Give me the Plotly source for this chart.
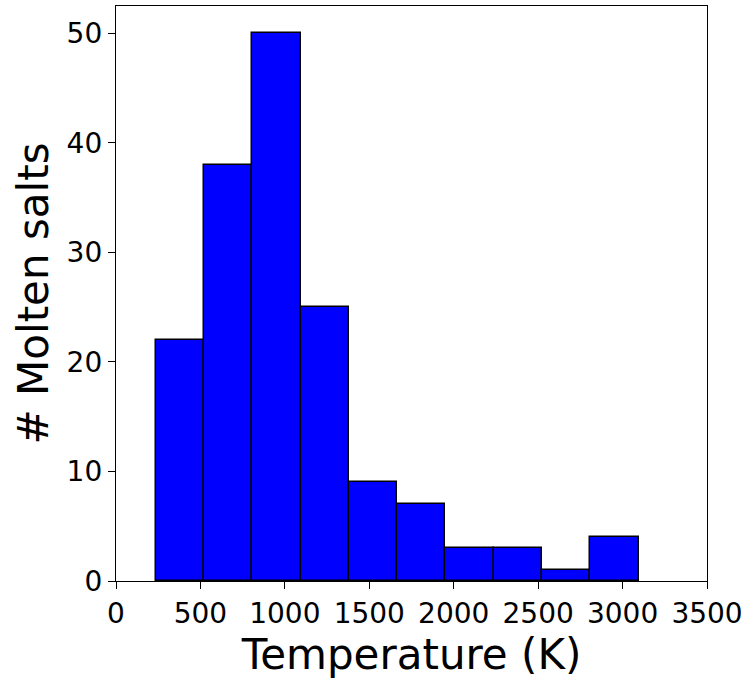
import plotly.graph_objects as go

# Histogram data
bin_edges = [236, 522, 808, 1094, 1380, 1666, 1951, 2237, 2523, 2809, 3095]
counts = [22, 38, 50, 25, 9, 7, 3, 3, 1, 4]

x_ticks = [0, 500, 1000, 1500, 2000, 2500, 3000, 3500]
y_ticks = [0, 10, 20, 30, 40, 50]

centers = [(a + b) / 2 for a, b in zip(bin_edges[:-1], bin_edges[1:])]
widths = [b - a for a, b in zip(bin_edges[:-1], bin_edges[1:])]

fig = go.Figure(
    go.Bar(
        x=centers,
        y=counts,
        width=widths,
        marker=dict(color="#0000ff", line=dict(color="black", width=1.5)),
    )
)

font_family = "DejaVu Sans"
fig.update_layout(
    width=751,
    height=679,
    margin=dict(l=116, r=44, t=6, b=98),
    plot_bgcolor="white",
    paper_bgcolor="white",
    showlegend=False,
    font=dict(family=font_family, color="black"),
    bargap=0,
)
fig.update_xaxes(
    range=[0, 3500],
    tickvals=x_ticks,
    ticktext=[str(v) for v in x_ticks],
    ticks="outside",
    ticklen=7,
    tickwidth=1.3,
    tickcolor="black",
    tickfont=dict(size=28, family=font_family),
    showline=True,
    linecolor="black",
    linewidth=1.3,
    mirror=True,
    showgrid=False,
    zeroline=False,
    automargin=False,
    title=dict(text="Temperature (K)", font=dict(size=42, family=font_family), standoff=6),
)
fig.update_yaxes(
    range=[0, 52.5],
    tickvals=y_ticks,
    ticktext=[str(v) for v in y_ticks],
    ticks="outside",
    ticklen=7,
    tickwidth=1.3,
    tickcolor="black",
    tickfont=dict(size=28, family=font_family),
    showline=True,
    linecolor="black",
    linewidth=1.3,
    mirror=True,
    showgrid=False,
    zeroline=False,
    automargin=False,
    title=dict(text="# Molten salts", font=dict(size=42, family=font_family), standoff=4),
)

fig.write_html(
    "out.html",
    config={"displayModeBar": False},
    post_script="document.body.style.margin='0';",
)
